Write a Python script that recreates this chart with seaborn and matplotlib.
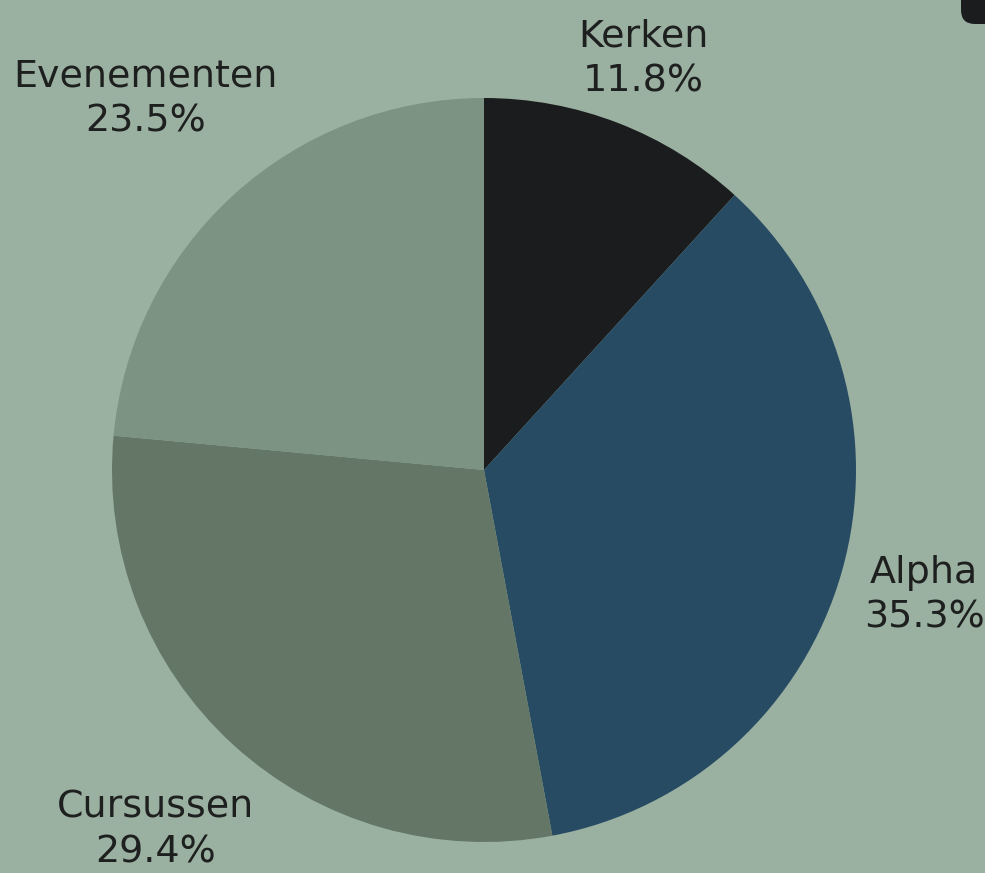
import matplotlib
matplotlib.use("Agg")
import matplotlib.pyplot as plt
from matplotlib.patches import FancyBboxPatch
import numpy as np
import seaborn as sns

categories = ["Kerken", "Alpha", "Cursussen", "Evenementen"]
values = [2, 6, 5, 4]
colors = ["#1b1c1e", "#274b63", "#647767", "#7c9282"]
label_dist = [1.185, 1.23, 1.31, 1.35]

BG = "#9ab0a0"
TXT = "#1e1f1f"

sns.set_theme(style="white")
plt.rcParams["font.family"] = ["DejaVu Sans"]

W, H = 985, 873
fig = plt.figure(figsize=(W / 100, H / 100), dpi=100)
fig.patch.set_facecolor(BG)

# dark element in the top-right corner with a rounded lower-left corner
r = 14
corner = FancyBboxPatch((961 + r, H - 24 + r), 200, 200,
                        boxstyle=f"round,pad={r},rounding_size={r}",
                        transform=None, facecolor="#1b1c1e", edgecolor="none",
                        zorder=0)
fig.patches.append(corner)

cx, cy, rad = 484, 470, 372
ax = fig.add_axes([(cx - rad) / W, (H - cy - rad) / H, 2 * rad / W, 2 * rad / H])
ax.set_facecolor("none")

wedges, _ = ax.pie(values, colors=colors, startangle=90, counterclock=False,
                   radius=1, wedgeprops=dict(linewidth=0))

# choose a font size so the widest label matches the reference width (~268 px)
renderer = fig.canvas.get_renderer()
probe = fig.text(0, 0, "Evenementen", fontsize=20)
wpx = probe.get_window_extent(renderer).width
probe.remove()
fs = 20 * 264 / wpx

total = sum(values)
for w, cat, v, d in zip(wedges, categories, values, label_dist):
    ang = np.deg2rad((w.theta1 + w.theta2) / 2)
    x, y = d * np.cos(ang), d * np.sin(ang)
    ax.text(x, y, f"{cat}\n{100 * v / total:.1f}%", ha="center", va="center",
            fontsize=fs, color=TXT, linespacing=1.32)

ax.set_xlim(-1, 1)
ax.set_ylim(-1, 1)
ax.set_aspect("equal")
ax.axis("off")

fig.savefig("out.png", dpi=100, facecolor=BG)
